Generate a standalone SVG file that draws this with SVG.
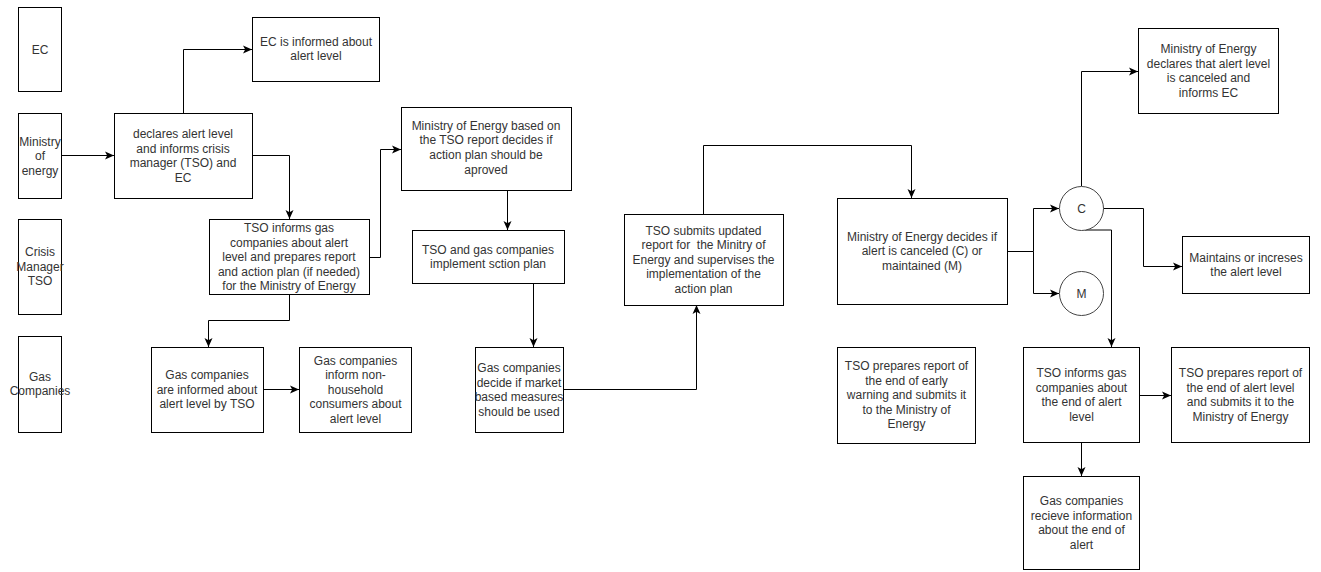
<svg xmlns="http://www.w3.org/2000/svg" width="1321" height="572" viewBox="0 0 1321 572">
<style>
.b{fill:#fff;stroke:#000;stroke-width:1}
.o{fill:#fff;stroke:#444;stroke-width:1}
.t{font-family:"Liberation Sans",Arial,sans-serif;font-size:12px;fill:#333;text-anchor:middle}
.c{fill:none;stroke:#000;stroke-width:1;marker-end:url(#a)}
</style>
<defs>
<marker id="a" markerUnits="userSpaceOnUse" markerWidth="10" markerHeight="10" viewBox="0 0 10 10" refX="9" refY="4.5" orient="auto">
<path d="M0,0.5 L9,4.5 L0,8.5 L2.2,4.5 z" fill="#000"/>
</marker>
</defs>
<rect width="1321" height="572" fill="#fff"/>
<g id="lane-ec"><rect class="b" x="18.5" y="7.5" width="43" height="84"/><text class="t" x="40" y="54">EC</text></g>
<g id="lane-ministry"><rect class="b" x="18.5" y="113.5" width="43" height="85"/><text class="t" x="40" y="145.5">Ministry</text><text class="t" x="40" y="160">of</text><text class="t" x="40" y="174.5">energy</text></g>
<g id="lane-tso"><rect class="b" x="18.5" y="219.5" width="43" height="95"/><text class="t" x="40" y="256">Crisis</text><text class="t" x="40" y="271">Manager</text><text class="t" x="40" y="285">TSO</text></g>
<g id="lane-gas"><rect class="b" x="18.5" y="336.5" width="43" height="96"/><text class="t" x="40" y="381">Gas</text><text class="t" x="40" y="395">Companies</text></g>

<g id="connectors">
<path class="c" d="M61,155.5 H114"/>
<path class="c" d="M183.5,113 V49.5 H252"/>
<path class="c" d="M252,155.5 H289.5 V219"/>
<path class="c" d="M369,257.5 H380.5 V149.5 H401"/>
<path class="c" d="M507.5,190 V230"/>
<path class="c" d="M533.5,283 V347"/>
<path class="c" d="M289.5,294 V320.5 H208.5 V347"/>
<path class="c" d="M263,389.5 H299"/>
<path class="c" d="M563,389.5 H696.5 V305"/>
<path class="c" d="M703.5,214 V145.5 H911.5 V198"/>
<path class="c" d="M1007,251.5 H1033.5 V208.5 H1059"/>
<path class="c" d="M1033.5,251.5 V293.5 H1059"/>
<path class="c" d="M1081.5,186 V71.5 H1138"/>
<path class="c" d="M1103,208.5 H1143.5 V266.5 H1182"/>
<path class="c" d="M1085,230 H1111.5 V347"/>
<path class="c" d="M1139,395.5 H1171"/>
<path class="c" d="M1081.5,442 V476"/>
</g>

<g id="n-ec-informed"><rect class="b" x="252.5" y="17.5" width="127" height="64"/><text class="t" x="316" y="46">EC is informed about</text><text class="t" x="316" y="60">alert level</text></g>
<g id="n-declares"><rect class="b" x="114.5" y="113.5" width="138" height="85"/><text class="t" x="183" y="138">declares alert level</text><text class="t" x="183" y="152.5">and informs crisis</text><text class="t" x="183" y="167">manager (TSO) and</text><text class="t" x="183" y="181.5">EC</text></g>
<g id="n-tso-informs"><rect class="b" x="209.5" y="219.5" width="160" height="75"/><text class="t" x="289" y="232">TSO informs gas</text><text class="t" x="289" y="246.5">companies about alert</text><text class="t" x="289" y="261">level and prepares report</text><text class="t" x="289" y="275.5">and action plan (if needed)</text><text class="t" x="289" y="290">for the Ministry of Energy</text></g>
<g id="n-gas-informed"><rect class="b" x="151.5" y="347.5" width="112" height="85"/><text class="t" x="207" y="379">Gas companies</text><text class="t" x="207" y="393.5">are informed about</text><text class="t" x="207" y="408">alert level by TSO</text></g>
<g id="n-gas-inform-non"><rect class="b" x="299.5" y="347.5" width="112" height="85"/><text class="t" x="355.5" y="364.5">Gas companies</text><text class="t" x="355.5" y="379">inform non-</text><text class="t" x="355.5" y="393.5">household</text><text class="t" x="355.5" y="408">consumers about</text><text class="t" x="355.5" y="422.5">alert level</text></g>
<g id="n-ministry-based"><rect class="b" x="401.5" y="107.5" width="170" height="83"/><text class="t" x="486" y="129.5">Ministry of Energy based on</text><text class="t" x="486" y="144">the TSO report decides if</text><text class="t" x="486" y="158.5">action plan should be</text><text class="t" x="486" y="173.5">aproved</text></g>
<g id="n-implement"><rect class="b" x="412.5" y="230.5" width="152" height="53"/><text class="t" x="488" y="254">TSO and gas companies</text><text class="t" x="488" y="268">implement sction plan</text></g>
<g id="n-gas-decide"><rect class="b" x="475.5" y="347.5" width="88" height="85"/><text class="t" x="519" y="372">Gas companies</text><text class="t" x="519" y="386.5">decide if market</text><text class="t" x="519" y="401">based measures</text><text class="t" x="519" y="415.5">should be used</text></g>
<g id="n-tso-submits"><rect class="b" x="624.5" y="214.5" width="159" height="91"/><text class="t" x="703.5" y="234.5">TSO submits updated</text><text class="t" x="703.5" y="249" xml:space="preserve">report for  the Minitry of</text><text class="t" x="703.5" y="263.5">Energy and supervises the</text><text class="t" x="703.5" y="278">implementation of the</text><text class="t" x="703.5" y="292.5">action plan</text></g>
<g id="n-ministry-decides"><rect class="b" x="837.5" y="198.5" width="170" height="106"/><text class="t" x="922" y="240.5">Ministry of Energy decides if</text><text class="t" x="922" y="255">alert is canceled (C) or</text><text class="t" x="922" y="269.5">maintained (M)</text></g>
<g id="n-c"><circle class="o" cx="1081.5" cy="208.5" r="22"/><text class="t" x="1081.5" y="212.5">C</text></g>
<g id="n-m"><circle class="o" cx="1081.5" cy="293.5" r="22"/><text class="t" x="1081.5" y="297.5">M</text></g>
<g id="n-early-warning"><rect class="b" x="837.5" y="347.5" width="138" height="96"/><text class="t" x="906.5" y="370">TSO prepares report of</text><text class="t" x="906.5" y="384.5">the end of early</text><text class="t" x="906.5" y="399">warning and submits it</text><text class="t" x="906.5" y="413.5">to the Ministry of</text><text class="t" x="906.5" y="428">Energy</text></g>
<g id="n-ministry-cancel"><rect class="b" x="1138.5" y="28.5" width="140" height="85"/><text class="t" x="1208.5" y="53">Ministry of Energy</text><text class="t" x="1208.5" y="67.5">declares that alert level</text><text class="t" x="1208.5" y="82">is canceled and</text><text class="t" x="1208.5" y="96.5">informs EC</text></g>
<g id="n-maintains"><rect class="b" x="1182.5" y="236.5" width="127" height="57"/><text class="t" x="1246" y="261.5">Maintains or increses</text><text class="t" x="1246" y="276">the alert level</text></g>
<g id="n-tso-end"><rect class="b" x="1023.5" y="347.5" width="116" height="95"/><text class="t" x="1081.5" y="377">TSO informs gas</text><text class="t" x="1081.5" y="391.5">companies about</text><text class="t" x="1081.5" y="406">the end of alert</text><text class="t" x="1081.5" y="420.5">level</text></g>
<g id="n-tso-report-end"><rect class="b" x="1171.5" y="347.5" width="138" height="95"/><text class="t" x="1240.5" y="377">TSO prepares report of</text><text class="t" x="1240.5" y="391.5">the end of alert level</text><text class="t" x="1240.5" y="406">and submits it to the</text><text class="t" x="1240.5" y="420.5">Ministry of Energy</text></g>
<g id="n-gas-receive"><rect class="b" x="1023.5" y="476.5" width="116" height="93"/><text class="t" x="1081.5" y="505">Gas companies</text><text class="t" x="1081.5" y="519.5">recieve information</text><text class="t" x="1081.5" y="534">about the end of</text><text class="t" x="1081.5" y="548.5">alert</text></g>
</svg>
